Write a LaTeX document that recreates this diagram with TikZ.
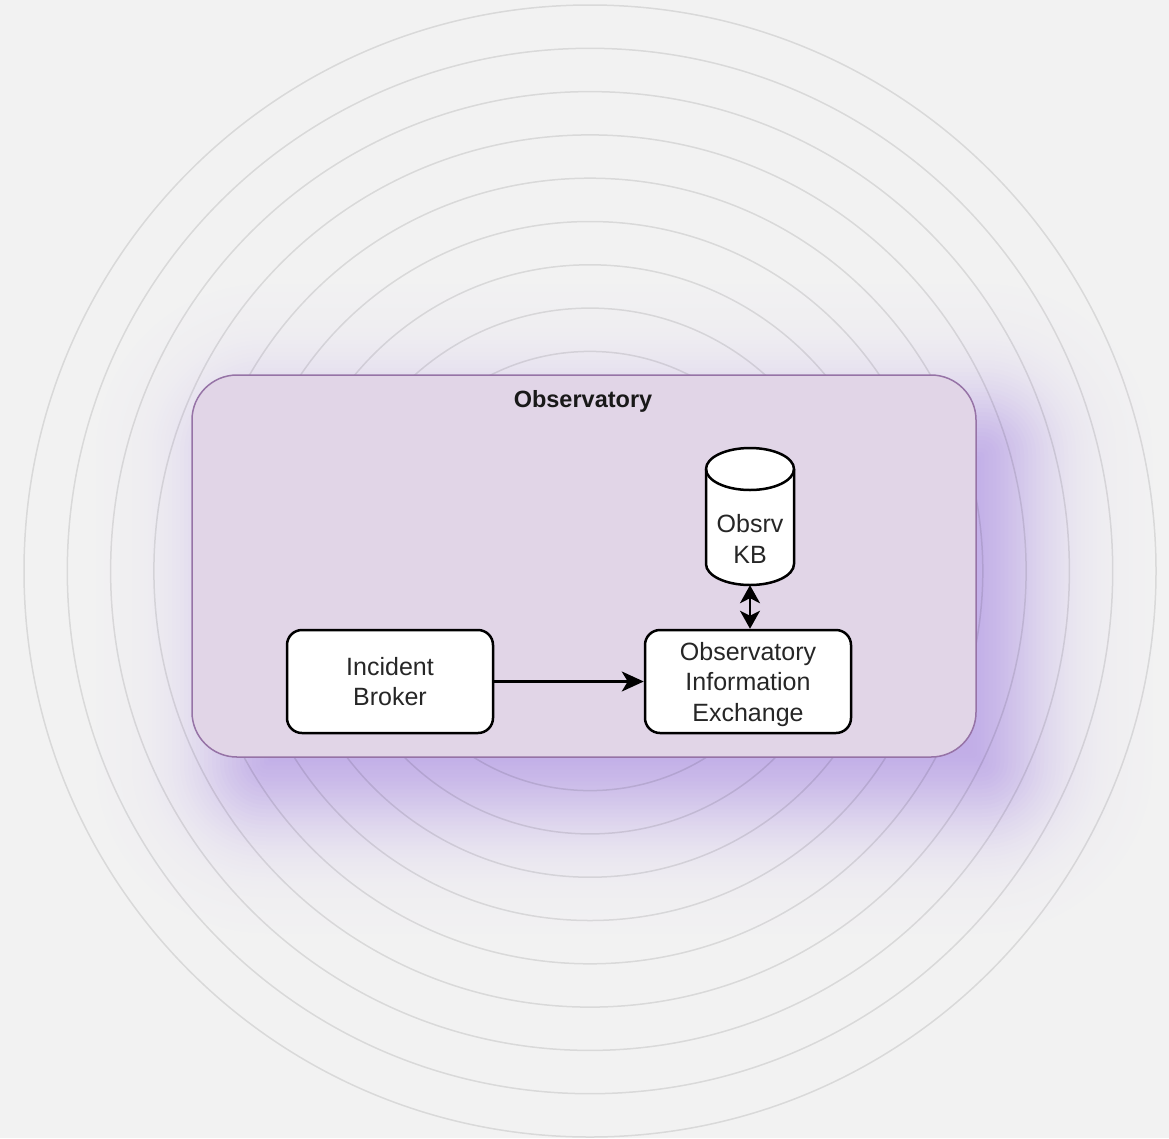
\documentclass[tikz,border=0pt]{standalone}
\usepackage{fontspec}
\setmainfont{Liberation Sans}
\usetikzlibrary{arrows.meta}
\definecolor{bg}{HTML}{F2F2F2}
\definecolor{groupfill}{HTML}{E1D5E7}
\definecolor{groupline}{HTML}{9673A6}
\definecolor{glow}{HTML}{B49BE4}

\begin{document}
\begin{tikzpicture}[x=1pt,y=-1pt,
  comp/.style={draw=black, line width=2.5pt, fill=white, rounded corners=15pt,
    minimum width=206pt, minimum height=103pt, inner sep=0pt, align=center,
    font=\fontsize{25}{30.5}\selectfont, text=black!85},
  label/.style={inner sep=0pt, align=center, font=\fontsize{25}{30.5}\selectfont, text=black!85},
  ring/.style={draw=black, draw opacity=0.1, line width=1.5pt},
  flow/.style={line width=2.4pt, -{Stealth[length=22pt,width=20pt,inset=6pt]}},
  both/.style={line width=2.4pt, {Stealth[length=18pt,width=20pt,inset=5pt]}-{Stealth[length=18pt,width=20pt,inset=5pt]}},
]
% background
\fill[bg] (0,0) rectangle (1169,1138);
\useasboundingbox (0,0) rectangle (1169,1138);

% soft glow under the group: opaque bands from outside in, blending glow into background
\foreach \e in {126,122,...,-62} {
  \pgfmathsetmacro{\pct}{90/(1+exp(1.702*(\e-2)/50))}
  \pgfmathsetmacro{\rc}{max(45+\e,2)}
  \colorlet{glowshade}{glow!\pct!bg}
  \fill[glowshade, rounded corners=\rc pt]
    ({222-\e},{410-\e}) rectangle ({1026+\e},{807+\e});
}

% concentric rings, translucent so the glow shows through
\foreach \i in {0,...,8}
  \draw[ring] (590,571) circle[radius={566pt-\i*43.3pt}];

% group container
\node[draw=groupline, fill=groupfill, line width=1.5pt, rounded corners=45pt,
  minimum width=784pt, minimum height=382pt, inner sep=0pt] (obs) at (584,566) {};
\node[inner sep=0pt, font=\bfseries\fontsize{23.5}{28}\selectfont, text=black!90] (obstitle) at (583,401) {Observatory};

% components
\node[comp] (ib) at (390,681.5) {Incident\\Broker};
\node[comp, text depth=0pt] (oie) at (748,681.5) {Observatory\\Information\\Exchange};

% knowledge base cylinder
\node[inner sep=0pt, minimum width=88pt, minimum height=137pt] (kb) at (750,516.5) {};
\filldraw[fill=white, draw=black, line width=2.5pt]
  (706,469) -- (706,564) arc[start angle=180, end angle=360, x radius=44pt, y radius=21pt]
  -- (794,469) arc[start angle=0, end angle=180, x radius=44pt, y radius=21pt] -- cycle;
\draw[black, line width=2.5pt] (706,469) arc[start angle=180, end angle=360, x radius=44pt, y radius=21pt];
\node[label] (kbtext) at (750,539) {Obsrv\\KB};

% connectors
\draw[flow] (ib.east) -- (oie.west);
\draw[both] (kb.south) -- (kb.south |- oie.north);
\end{tikzpicture}
\end{document}
